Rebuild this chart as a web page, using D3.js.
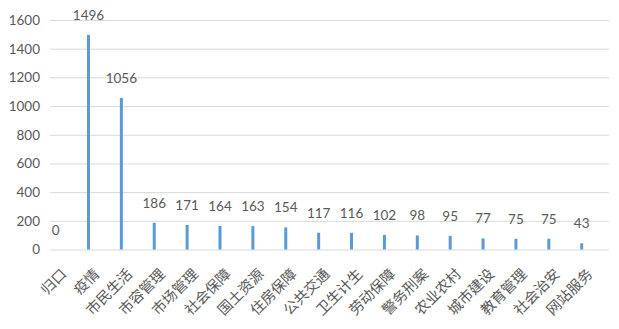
<!DOCTYPE html>
<html>
<head>
<meta charset="utf-8">
<script src="https://cdn.jsdelivr.net/npm/d3@7"></script>
<style>
body { margin: 0; background: #fff; }
</style>
</head>
<body>
<div id="chart"></div>
<script>
var categories = ["归口", "疫情", "市民生活", "市容管理", "市场管理", "社会保障", "国土资源", "住房保障",
    "公共交通", "卫生计生", "劳动保障", "警务刑案", "农业农村", "城市建设", "教育管理", "社会治安", "网站服务"];
var values = [0, 1496, 1056, 186, 171, 164, 163, 154, 117, 116, 102, 98, 95, 77, 75, 75, 43];
var y_ticks = [0, 200, 400, 600, 800, 1000, 1200, 1400, 1600];

var width = 619;
var height = 329;
var margin = ({top: 20, right: 10, bottom: 79.5, left: 50});
var bar_color = "#5B9BD5";
var text_color = "#595959";
var num_font = "Lato, 'Liberation Sans', sans-serif";
var cjk_font = "'Noto Sans CJK SC', sans-serif";

var x = d3.scaleBand()
    .domain(categories)
    .range([margin.left, width - margin.right]);
var y = d3.scaleLinear()
    .domain([0, 1600])
    .range([height - margin.bottom, margin.top]);

// bar sits left of the band centre (first series of an excel cluster)
var bar_center = function(c) { return x(c) + x.bandwidth() * 0.17; };

var svg = d3.select("#chart")
    .append("svg")
    .attr("width", width)
    .attr("height", height);

// gridlines
var y_axis = d3.axisLeft(y)
    .tickValues(y_ticks)
    .tickFormat(d3.format("d"))
    .tickSize(-(width - margin.left - margin.right))
    .tickPadding(10);
var gy = svg.append("g")
    .attr("transform", "translate(" + margin.left + ",0)")
    .call(y_axis);
gy.select(".domain").remove();
gy.selectAll(".tick line")
    .attr("stroke", "#D9D9D9")
    .attr("stroke-width", 1);
gy.selectAll(".tick text")
    .attr("fill", text_color)
    .style("font-family", num_font)
    .style("font-size", "13.5px");

// bars
svg.append("g")
    .selectAll("rect")
    .data(values)
    .enter()
    .append("rect")
    .attr("x", function(d, i) { return bar_center(categories[i]) - 1.5; })
    .attr("width", 3)
    .attr("y", function(d) { return y(d); })
    .attr("height", function(d) { return y(0) - y(d); })
    .attr("fill", bar_color);

// value labels
svg.append("g")
    .selectAll("text")
    .data(values)
    .enter()
    .append("text")
    .attr("x", function(d, i) { return bar_center(categories[i]); })
    .attr("y", function(d) { return y(d) - 15; })
    .attr("text-anchor", "middle")
    .attr("fill", text_color)
    .style("font-family", num_font)
    .style("font-size", "13.5px")
    .text(function(d) { return d; });

// category labels, rotated
svg.append("g")
    .selectAll("text")
    .data(categories)
    .enter()
    .append("text")
    .attr("transform", function(c) {
        return "translate(" + (x(c) + x.bandwidth() / 2 + 1) + "," + 275 + ") rotate(-45)";
    })
    .attr("text-anchor", "end")
    .attr("fill", text_color)
    .style("font-family", cjk_font)
    .style("font-size", "14.5px")
    .text(function(c) { return c; });
</script>
</body>
</html>
